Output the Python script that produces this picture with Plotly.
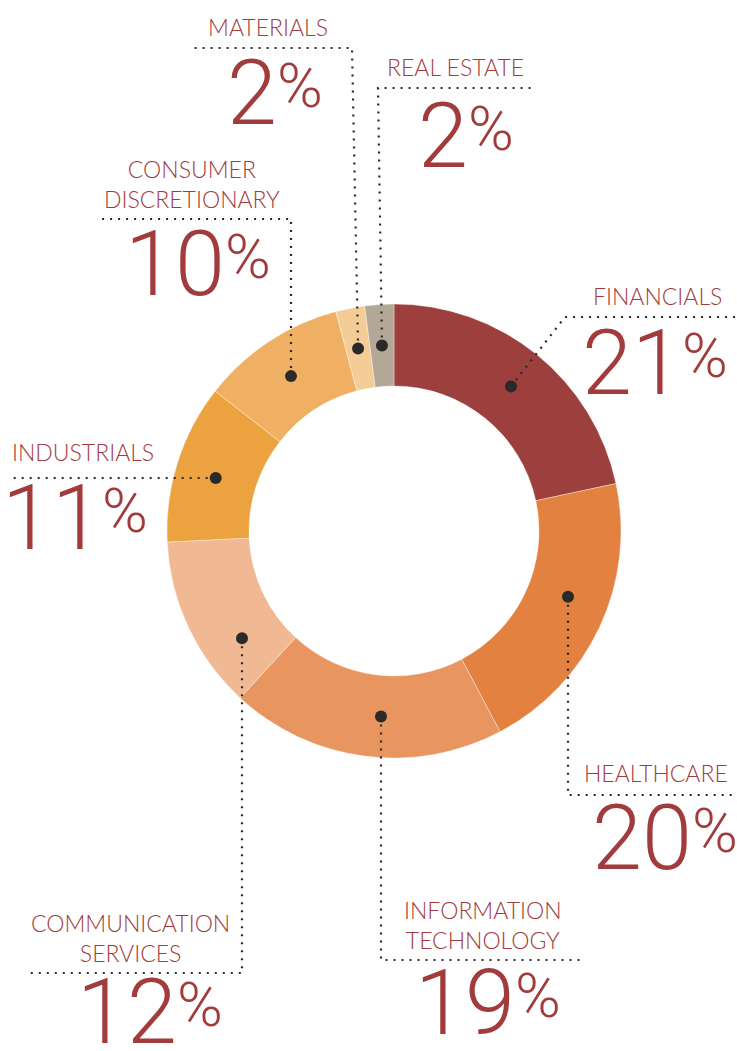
import math
import plotly.graph_objects as go

# ---- data ----
sectors = ["FINANCIALS", "HEALTHCARE", "INFORMATION<br>TECHNOLOGY", "COMMUNICATION<br>SERVICES",
           "INDUSTRIALS", "CONSUMER<br>DISCRETIONARY", "MATERIALS", "REAL ESTATE"]
values = [21, 20, 19, 12, 11, 10, 2, 2]
colors = ["#9C3F3D", "#E38240", "#E8955F", "#F0B893", "#EBA23F", "#F0B063", "#F4CD96", "#B3A796"]

# ---- layout (pixel space) ----
W, H = 737, 1051
CX, CY = 394, 531
R_OUT, R_IN = 227, 145
R_DOT = (R_OUT + R_IN) / 2
TXT = "#A23B3B"
DARK = "#2a2a2a"
LABEL_FONT = "Lato"
NUM_FONT = "Roboto"

# per-sector layout: label centre, percent (split x, digit centre y),
# leader: ("v", x) vertical leader column, ("h", y) horizontal leader row, or None (slice mid-angle)
lay = [
    dict(lab=(657, 296), pct=(684, 363), lead=None, path=[(565, 317), (737, 317)]),
    dict(lab=(656, 773), pct=(694, 838), lead=("v", 568), path=[("x", 795), (737, 795)]),
    dict(lab=(483, 925), pct=(517, 1003), lead=("v", 381), path=[("x", 960), (580, 960)]),
    dict(lab=(130, 938), pct=(179, 1012), lead=("v", 242), path=[("x", 973), (25, 973)]),
    dict(lab=(83, 452), pct=(104, 518), lead=("h", 478), path=[(8, "y")]),
    dict(lab=(192, 184), pct=(227, 264), lead=("v", 291), path=[("x", 219), (97, 219)]),
    dict(lab=(268, 27), pct=(279, 93), lead=None, path=[(352, 48), (190, 48)]),
    dict(lab=(455, 67), pct=(470, 136), lead=None, path=[(378, 88), (535, 88)]),
]

total = sum(values)
fig = go.Figure()

fig.add_trace(go.Pie(
    labels=sectors, values=values, sort=False, direction="clockwise", rotation=0,
    hole=R_IN / R_OUT, textinfo="none", hoverinfo="label+value",
    marker=dict(colors=colors, line=dict(color="rgba(255,255,255,0.6)", width=0.6)),
    domain=dict(x=[(CX - R_OUT) / W, (CX + R_OUT) / W],
                y=[(H - CY - R_OUT) / H, (H - CY + R_OUT) / H]),
    showlegend=False,
))

cum = 0
for name, v, L in zip(sectors, values, lay):
    mid = (cum + v / 2) / total * 2 * math.pi
    cum += v
    mx, my = math.sin(mid), -math.cos(mid)
    if L["lead"] is None:
        dx, dy = CX + R_DOT * mx, CY + R_DOT * my
    elif L["lead"][0] == "v":
        dx = L["lead"][1]
        off = math.sqrt(max(R_DOT ** 2 - (dx - CX) ** 2, 0))
        dy = CY + math.copysign(off, my)
    else:
        dy = L["lead"][1]
        off = math.sqrt(max(R_DOT ** 2 - (dy - CY) ** 2, 0))
        dx = CX + math.copysign(off, mx)
    pts = [(dx, dy)]
    for px, py in L["path"]:
        pts.append((dx if px == "x" else px, dy if py == "y" else py))
    path = "M " + " L ".join(f"{x:.1f},{y:.1f}" for x, y in pts)
    fig.add_shape(type="path", path=path, xref="x", yref="y", layer="above",
                  line=dict(color=DARK, width=2.2, dash="2px,6px"))
    fig.add_shape(type="circle", xref="x", yref="y", layer="above",
                  x0=dx - 6, x1=dx + 6, y0=dy - 6, y1=dy + 6,
                  fillcolor=DARK, line=dict(width=0))
    fig.add_annotation(x=L["lab"][0], y=L["lab"][1], xref="x", yref="y", text=name,
                       showarrow=False, xanchor="center", yanchor="middle",
                       font=dict(family=LABEL_FONT, size=23, color=TXT, weight=300))
    sx, cy = L["pct"]
    fig.add_annotation(x=sx, y=cy, xref="x", yref="y", text=str(v),
                       showarrow=False, xanchor="right", yanchor="middle",
                       font=dict(family=NUM_FONT, size=90, color=TXT, weight=300))
    fig.add_annotation(x=sx - 4, y=cy - 8, xref="x", yref="y", text="%",
                       showarrow=False, xanchor="left", yanchor="middle",
                       font=dict(family=NUM_FONT, size=62, color=TXT, weight=300))

fig.update_layout(
    width=W, height=H, margin=dict(l=0, r=0, t=0, b=0),
    paper_bgcolor="white", plot_bgcolor="rgba(0,0,0,0)",
    xaxis=dict(range=[0, W], visible=False, fixedrange=True),
    yaxis=dict(range=[H, 0], visible=False, fixedrange=True),
)

fig.write_html("out.html", config={"displayModeBar": False},
               post_script="document.body.style.margin='0';")
